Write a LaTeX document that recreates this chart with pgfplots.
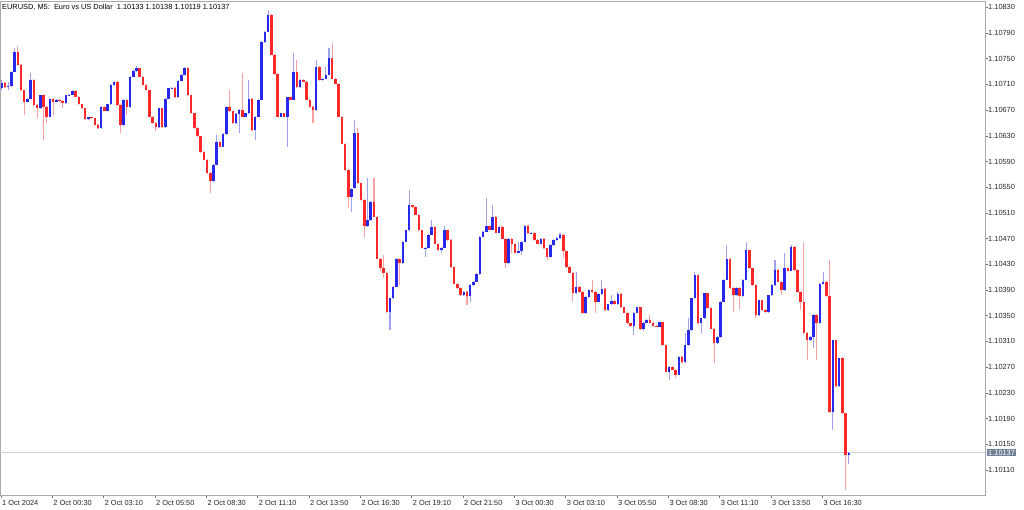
\documentclass[border=0pt]{standalone}
\usepackage{fontspec}
\setmainfont{Liberation Sans}
\usepackage{pgfplots}
\usepackage{pgfplotstable}
\pgfplotsset{compat=1.18}
\definecolor{bull}{RGB}{40,40,235}
\definecolor{bear}{RGB}{250,40,40}
\definecolor{bullw}{RGB}{160,160,240}
\definecolor{bearw}{RGB}{250,160,160}
\definecolor{framec}{RGB}{170,170,170}
\definecolor{bidline}{RGB}{200,208,216}
\definecolor{bidbox}{RGB}{112,128,150}

\pgfplotstableread{
k o h l c
0 1.10704 1.10717 1.10701 1.10712
1 1.10712 1.10713 1.10705 1.10706
2 1.10706 1.10714 1.10701 1.10707
3 1.10707 1.10731 1.10706 1.10730
4 1.10730 1.10767 1.10729 1.10761
5 1.10761 1.10770 1.10739 1.10740
6 1.10740 1.10741 1.10700 1.10701
7 1.10701 1.10702 1.10662 1.10683
8 1.10683 1.10689 1.10682 1.10688
9 1.10688 1.10728 1.10687 1.10717
10 1.10717 1.10718 1.10677 1.10678
11 1.10678 1.10679 1.10658 1.10673
12 1.10673 1.10694 1.10672 1.10693
13 1.10693 1.10694 1.10623 1.10675
14 1.10675 1.10676 1.10650 1.10660
15 1.10660 1.10689 1.10659 1.10688
16 1.10688 1.10689 1.10662 1.10683
17 1.10683 1.10687 1.10682 1.10686
18 1.10686 1.10687 1.10683 1.10684
19 1.10684 1.10685 1.10673 1.10681
20 1.10681 1.10694 1.10680 1.10693
21 1.10693 1.10695 1.10692 1.10694
22 1.10694 1.10701 1.10693 1.10700
23 1.10700 1.10701 1.10690 1.10691
24 1.10691 1.10692 1.10678 1.10679
25 1.10679 1.10680 1.10672 1.10673
26 1.10673 1.10674 1.10655 1.10656
27 1.10656 1.10660 1.10655 1.10659
28 1.10659 1.10660 1.10656 1.10657
29 1.10657 1.10658 1.10646 1.10647
30 1.10647 1.10648 1.10641 1.10642
31 1.10642 1.10676 1.10641 1.10675
32 1.10675 1.10676 1.10668 1.10669
33 1.10669 1.10680 1.10668 1.10679
34 1.10679 1.10710 1.10678 1.10709
35 1.10709 1.10715 1.10708 1.10714
36 1.10714 1.10715 1.10677 1.10678
37 1.10678 1.10679 1.10634 1.10647
38 1.10647 1.10687 1.10646 1.10686
39 1.10686 1.10687 1.10662 1.10675
40 1.10675 1.10723 1.10674 1.10722
41 1.10722 1.10732 1.10721 1.10731
42 1.10731 1.10739 1.10730 1.10735
43 1.10735 1.10736 1.10721 1.10722
44 1.10722 1.10723 1.10708 1.10709
45 1.10709 1.10710 1.10700 1.10701
46 1.10701 1.10702 1.10659 1.10660
47 1.10660 1.10661 1.10649 1.10650
48 1.10650 1.10651 1.10637 1.10643
49 1.10643 1.10674 1.10642 1.10673
50 1.10673 1.10674 1.10642 1.10643
51 1.10643 1.10689 1.10642 1.10688
52 1.10688 1.10705 1.10687 1.10704
53 1.10704 1.10706 1.10703 1.10705
54 1.10705 1.10706 1.10689 1.10690
55 1.10690 1.10717 1.10689 1.10716
56 1.10716 1.10726 1.10715 1.10725
57 1.10725 1.10737 1.10724 1.10735
58 1.10735 1.10737 1.10692 1.10693
59 1.10693 1.10694 1.10664 1.10665
60 1.10665 1.10666 1.10641 1.10642
61 1.10642 1.10643 1.10628 1.10629
62 1.10629 1.10630 1.10604 1.10605
63 1.10605 1.10606 1.10592 1.10593
64 1.10593 1.10594 1.10571 1.10572
65 1.10572 1.10573 1.10541 1.10559
66 1.10559 1.10586 1.10558 1.10585
67 1.10585 1.10631 1.10584 1.10621
68 1.10621 1.10622 1.10612 1.10613
69 1.10613 1.10634 1.10612 1.10633
70 1.10633 1.10676 1.10632 1.10675
71 1.10675 1.10701 1.10667 1.10668
72 1.10668 1.10669 1.10649 1.10650
73 1.10650 1.10665 1.10649 1.10664
74 1.10664 1.10671 1.10634 1.10670
75 1.10670 1.10728 1.10659 1.10660
76 1.10660 1.10666 1.10659 1.10665
77 1.10665 1.10717 1.10664 1.10688
78 1.10688 1.10689 1.10638 1.10639
79 1.10639 1.10661 1.10623 1.10660
80 1.10660 1.10687 1.10659 1.10686
81 1.10686 1.10777 1.10685 1.10776
82 1.10776 1.10793 1.10775 1.10792
83 1.10792 1.10826 1.10791 1.10818
84 1.10818 1.10819 1.10755 1.10756
85 1.10756 1.10757 1.10725 1.10726
86 1.10726 1.10727 1.10659 1.10660
87 1.10660 1.10666 1.10659 1.10665
88 1.10665 1.10666 1.10659 1.10660
89 1.10660 1.10691 1.10613 1.10690
90 1.10690 1.10691 1.10685 1.10686
91 1.10686 1.10759 1.10685 1.10730
92 1.10730 1.10748 1.10705 1.10706
93 1.10706 1.10718 1.10705 1.10717
94 1.10717 1.10718 1.10713 1.10714
95 1.10714 1.10715 1.10685 1.10686
96 1.10686 1.10687 1.10674 1.10675
97 1.10675 1.10676 1.10650 1.10670
98 1.10670 1.10748 1.10669 1.10737
99 1.10737 1.10738 1.10716 1.10717
100 1.10717 1.10720 1.10716 1.10719
101 1.10719 1.10737 1.10718 1.10725
102 1.10725 1.10767 1.10724 1.10751
103 1.10751 1.10774 1.10718 1.10719
104 1.10719 1.10720 1.10710 1.10711
105 1.10711 1.10712 1.10659 1.10660
106 1.10660 1.10661 1.10617 1.10618
107 1.10618 1.10619 1.10576 1.10577
108 1.10577 1.10578 1.10518 1.10535
109 1.10535 1.10549 1.10512 1.10548
110 1.10548 1.10655 1.10547 1.10634
111 1.10634 1.10642 1.10555 1.10556
112 1.10556 1.10557 1.10529 1.10530
113 1.10530 1.10531 1.10471 1.10489
114 1.10489 1.10564 1.10488 1.10499
115 1.10499 1.10528 1.10498 1.10527
116 1.10527 1.10564 1.10503 1.10504
117 1.10504 1.10505 1.10438 1.10439
118 1.10439 1.10440 1.10420 1.10424
119 1.10424 1.10444 1.10409 1.10417
120 1.10417 1.10418 1.10354 1.10356
121 1.10356 1.10378 1.10328 1.10377
122 1.10377 1.10396 1.10376 1.10395
123 1.10395 1.10440 1.10394 1.10439
124 1.10439 1.10440 1.10398 1.10432
125 1.10432 1.10466 1.10431 1.10465
126 1.10465 1.10484 1.10464 1.10483
127 1.10483 1.10546 1.10482 1.10522
128 1.10522 1.10523 1.10518 1.10519
129 1.10519 1.10520 1.10506 1.10507
130 1.10507 1.10508 1.10482 1.10483
131 1.10483 1.10484 1.10454 1.10455
132 1.10455 1.10457 1.10442 1.10456
133 1.10456 1.10477 1.10455 1.10476
134 1.10476 1.10499 1.10475 1.10488
135 1.10488 1.10489 1.10461 1.10462
136 1.10462 1.10463 1.10451 1.10452
137 1.10452 1.10457 1.10448 1.10456
138 1.10456 1.10489 1.10455 1.10483
139 1.10483 1.10484 1.10467 1.10468
140 1.10468 1.10469 1.10425 1.10426
141 1.10426 1.10427 1.10399 1.10400
142 1.10400 1.10401 1.10392 1.10393
143 1.10393 1.10394 1.10381 1.10382
144 1.10382 1.10388 1.10381 1.10387
145 1.10387 1.10388 1.10367 1.10380
146 1.10380 1.10399 1.10372 1.10398
147 1.10398 1.10404 1.10397 1.10403
148 1.10403 1.10416 1.10402 1.10415
149 1.10415 1.10474 1.10414 1.10473
150 1.10473 1.10482 1.10472 1.10481
151 1.10481 1.10533 1.10480 1.10490
152 1.10490 1.10491 1.10483 1.10484
153 1.10484 1.10522 1.10483 1.10504
154 1.10504 1.10505 1.10478 1.10479
155 1.10479 1.10489 1.10478 1.10488
156 1.10488 1.10489 1.10469 1.10470
157 1.10470 1.10471 1.10424 1.10432
158 1.10432 1.10471 1.10431 1.10470
159 1.10470 1.10471 1.10448 1.10462
160 1.10462 1.10463 1.10447 1.10448
161 1.10448 1.10465 1.10447 1.10450
162 1.10450 1.10466 1.10444 1.10465
163 1.10465 1.10491 1.10464 1.10490
164 1.10490 1.10491 1.10477 1.10478
165 1.10478 1.10480 1.10477 1.10479
166 1.10479 1.10480 1.10467 1.10468
167 1.10468 1.10469 1.10461 1.10462
168 1.10462 1.10471 1.10461 1.10470
169 1.10470 1.10471 1.10454 1.10455
170 1.10455 1.10456 1.10437 1.10442
171 1.10442 1.10461 1.10441 1.10460
172 1.10460 1.10469 1.10459 1.10468
173 1.10468 1.10472 1.10467 1.10471
174 1.10471 1.10479 1.10470 1.10476
175 1.10476 1.10477 1.10440 1.10450
176 1.10450 1.10451 1.10425 1.10426
177 1.10426 1.10427 1.10416 1.10417
178 1.10417 1.10418 1.10372 1.10385
179 1.10385 1.10418 1.10384 1.10395
180 1.10395 1.10396 1.10386 1.10387
181 1.10387 1.10388 1.10353 1.10354
182 1.10354 1.10380 1.10353 1.10379
183 1.10379 1.10391 1.10378 1.10390
184 1.10390 1.10406 1.10386 1.10387
185 1.10387 1.10388 1.10354 1.10372
186 1.10372 1.10385 1.10371 1.10384
187 1.10384 1.10406 1.10383 1.10392
188 1.10392 1.10393 1.10358 1.10359
189 1.10359 1.10369 1.10358 1.10368
190 1.10368 1.10382 1.10367 1.10373
191 1.10373 1.10374 1.10367 1.10368
192 1.10368 1.10387 1.10367 1.10384
193 1.10384 1.10385 1.10362 1.10363
194 1.10363 1.10364 1.10354 1.10355
195 1.10355 1.10356 1.10337 1.10338
196 1.10338 1.10339 1.10333 1.10334
197 1.10334 1.10356 1.10320 1.10355
198 1.10355 1.10364 1.10354 1.10363
199 1.10363 1.10364 1.10328 1.10329
200 1.10329 1.10340 1.10326 1.10339
201 1.10339 1.10345 1.10338 1.10344
202 1.10344 1.10351 1.10338 1.10339
203 1.10339 1.10340 1.10333 1.10334
204 1.10334 1.10335 1.10332 1.10333
205 1.10333 1.10341 1.10332 1.10340
206 1.10340 1.10341 1.10303 1.10304
207 1.10304 1.10305 1.10262 1.10263
208 1.10263 1.10271 1.10250 1.10270
209 1.10270 1.10271 1.10265 1.10266
210 1.10266 1.10267 1.10253 1.10258
211 1.10258 1.10287 1.10257 1.10286
212 1.10286 1.10287 1.10277 1.10278
213 1.10278 1.10323 1.10277 1.10304
214 1.10304 1.10346 1.10303 1.10328
215 1.10328 1.10378 1.10327 1.10377
216 1.10377 1.10418 1.10376 1.10413
217 1.10413 1.10414 1.10337 1.10338
218 1.10338 1.10347 1.10323 1.10346
219 1.10346 1.10386 1.10345 1.10385
220 1.10385 1.10386 1.10361 1.10362
221 1.10362 1.10363 1.10329 1.10330
222 1.10330 1.10331 1.10276 1.10307
223 1.10307 1.10318 1.10306 1.10317
224 1.10317 1.10373 1.10316 1.10372
225 1.10372 1.10407 1.10371 1.10406
226 1.10406 1.10460 1.10405 1.10439
227 1.10439 1.10440 1.10392 1.10393
228 1.10393 1.10394 1.10356 1.10382
229 1.10382 1.10394 1.10381 1.10393
230 1.10393 1.10394 1.10359 1.10380
231 1.10380 1.10407 1.10379 1.10406
232 1.10406 1.10465 1.10405 1.10452
233 1.10452 1.10453 1.10423 1.10424
234 1.10424 1.10425 1.10397 1.10398
235 1.10398 1.10399 1.10346 1.10351
236 1.10351 1.10375 1.10350 1.10374
237 1.10374 1.10375 1.10358 1.10359
238 1.10359 1.10360 1.10355 1.10356
239 1.10356 1.10383 1.10355 1.10382
240 1.10382 1.10399 1.10381 1.10398
241 1.10398 1.10437 1.10397 1.10421
242 1.10421 1.10422 1.10402 1.10403
243 1.10403 1.10404 1.10382 1.10390
244 1.10390 1.10448 1.10389 1.10424
245 1.10424 1.10425 1.10419 1.10420
246 1.10420 1.10460 1.10419 1.10457
247 1.10457 1.10458 1.10420 1.10421
248 1.10421 1.10422 1.10386 1.10387
249 1.10387 1.10388 1.10359 1.10372
250 1.10372 1.10465 1.10322 1.10323
251 1.10323 1.10324 1.10281 1.10312
252 1.10312 1.10318 1.10311 1.10317
253 1.10317 1.10352 1.10300 1.10351
254 1.10351 1.10352 1.10281 1.10338
255 1.10338 1.10401 1.10337 1.10400
256 1.10400 1.10418 1.10399 1.10403
257 1.10403 1.10404 1.10379 1.10380
258 1.10380 1.10437 1.10199 1.10200
259 1.10200 1.10313 1.10172 1.10312
260 1.10312 1.10313 1.10239 1.10240
261 1.10240 1.10285 1.10239 1.10284
262 1.10284 1.10285 1.10197 1.10198
263 1.10198 1.10199 1.10079 1.10133
264 1.10133 1.10138 1.10119 1.10137
}\candles

\begin{document}
\begin{tikzpicture}[font=\fontsize{7.4}{8.5}\selectfont]
\begin{axis}[
  at={(0pt,14pt)}, anchor=south west,
  width=985pt, height=494pt, scale only axis,
  xmin=-0.6, xmax=613.4,
  ymin=1.10071, ymax=1.108398,
  axis line style={draw=framec, line width=0.8pt},
  tick style={draw=black!55, line width=0.6pt},
  tick align=outside, major tick length=3pt,
  xtick pos=bottom, ytick pos=right, yticklabel pos=right,
  scaled y ticks=false, scaled x ticks=false,
  xtick={0,32,64,96,128,160,192,224,256,288,320,352,384,416,448,480,512},
  xticklabels={1 Oct 2024,2 Oct 00:30,2 Oct 03:10,2 Oct 05:50,2 Oct 08:30,2 Oct 11:10,2 Oct 13:50,2 Oct 16:30,2 Oct 19:10,2 Oct 21:50,3 Oct 00:30,3 Oct 03:10,3 Oct 05:50,3 Oct 08:30,3 Oct 11:10,3 Oct 13:50,3 Oct 16:30},
  ytick={1.10110,1.10150,1.10190,1.10230,1.10270,1.10310,1.10350,1.10390,1.10430,1.10470,1.10510,1.10550,1.10590,1.10630,1.10670,1.10710,1.10750,1.10790,1.10830},
  yticklabels={1.10110,1.10150,1.10190,1.10230,1.10270,1.10310,1.10350,1.10390,1.10430,1.10470,1.10510,1.10550,1.10590,1.10630,1.10670,1.10710,1.10750,1.10790,1.10830},
  xticklabel style={anchor=base west, inner sep=0pt, xshift=1pt},
  xticklabel shift=7.5pt,
  yticklabel style={anchor=west, inner sep=0pt},
  yticklabel shift=0pt,
  ticklabel style={text=black!85},
  candle/.style={draw=none, mark=none, forget plot,
    error bars/y dir=plus, error bars/y explicit, error bars/error mark=none},
]
\addplot[bidline, line width=0.8pt, forget plot] coordinates {(-0.6,1.10137) (613.4,1.10137)};
% wicks
\addplot[candle, restrict expr to domain={\thisrow{c}-\thisrow{o}}{0:1},
  error bars/error bar style={draw=bullw, line width=1.1pt}]
  table[x expr=2*\thisrow{k}+0.5, y=l, y error plus expr=\thisrow{h}-\thisrow{l}] {\candles};
\addplot[candle, restrict expr to domain={\thisrow{c}-\thisrow{o}}{-1:0},
  error bars/error bar style={draw=bearw, line width=1.1pt}]
  table[x expr=2*\thisrow{k}+0.5, y=l, y error plus expr=\thisrow{h}-\thisrow{l}] {\candles};
% bodies
\addplot[candle, restrict expr to domain={\thisrow{c}-\thisrow{o}}{0:1},
  error bars/error bar style={draw=bull, line width=2.5pt}]
  table[x expr=2*\thisrow{k}+0.5, y=o, y error plus expr=\thisrow{c}-\thisrow{o}] {\candles};
\addplot[candle, restrict expr to domain={\thisrow{c}-\thisrow{o}}{-1:0},
  error bars/error bar style={draw=bear, line width=2.5pt}]
  table[x expr=2*\thisrow{k}+0.5, y=c, y error plus expr=\thisrow{o}-\thisrow{c}] {\candles};
\end{axis}
\node[anchor=base west, inner sep=0pt] at (2pt,499.7pt)
  {EURUSD, M5:\ \ Euro vs US Dollar\ \ 1.10133 1.10138 1.10119 1.10137};
\node[anchor=west, fill=bidbox, text=white, inner xsep=1.5pt, inner ysep=1pt] at (986.5pt,56.3pt) {1.10137};
\pgfresetboundingbox
\path[use as bounding box] (0pt,0pt) rectangle (1024pt,509pt);
\end{tikzpicture}
\end{document}
